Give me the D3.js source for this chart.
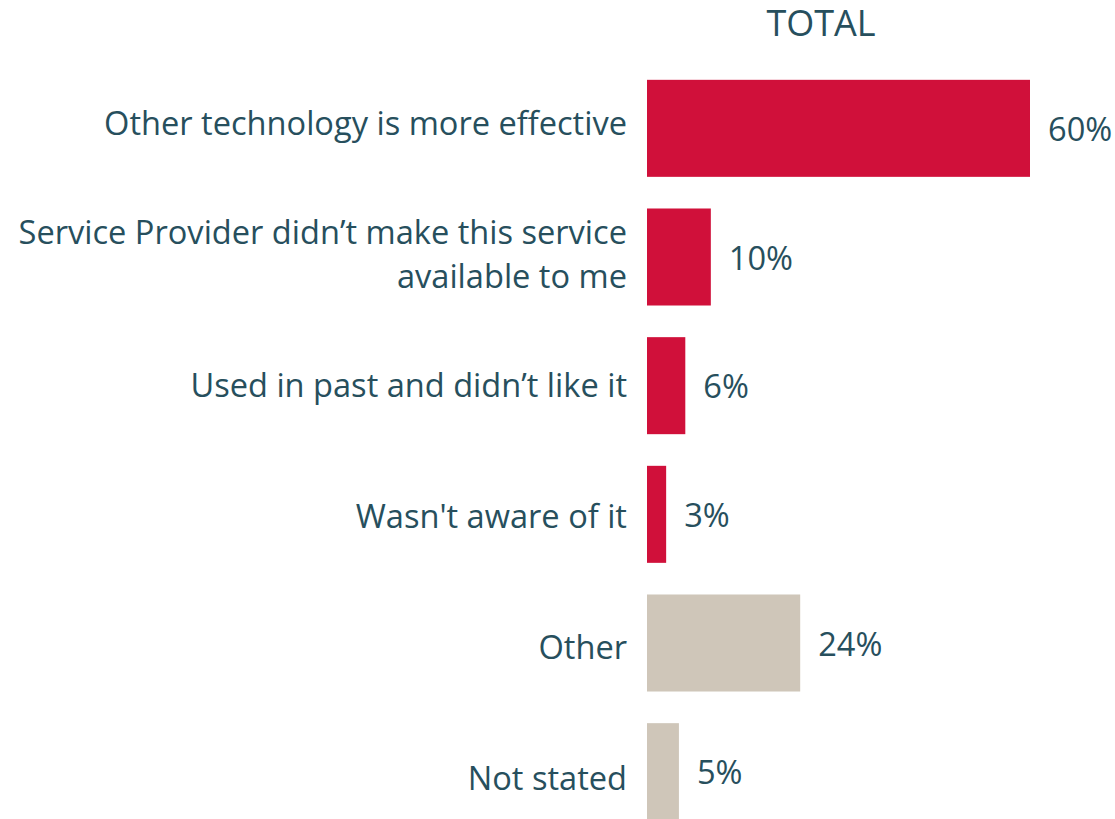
<!DOCTYPE html>
<html>
<head>
<meta charset="utf-8">
<script src="https://cdn.jsdelivr.net/npm/d3@7"></script>
<style>
  html, body { margin: 0; padding: 0; background: #ffffff; }
  svg { display: block; }
  text { font-family: "Open Sans", sans-serif; fill: #274f5d; }
</style>
</head>
<body>
<svg id="chart" width="1115" height="819"></svg>
<script>
// Reasons given (one line per array entry for wrapped labels)
const categories = [
  "Other technology is more effective",
  "Service Provider didn’t make this service available to me",
  "Used in past and didn’t like it",
  "Wasn't aware of it",
  "Other",
  "Not stated"
];
const labelLines = [
  ["Other technology is more effective"],
  ["Service Provider didn’t make this service", "available to me"],
  ["Used in past and didn’t like it"],
  ["Wasn't aware of it"],
  ["Other"],
  ["Not stated"]
];
const values = [60, 10, 6, 3, 24, 5];
const groups = ["main", "main", "main", "main", "rest", "rest"];
const seriesTitle = "TOTAL";

const colors = { main: "#d0103a", rest: "#cfc6b9" };

const svg = d3.select("#chart");

const x = d3.scaleLinear().domain([0, 60]).range([647, 1030]);
const y = d3.scaleBand()
  .domain(categories)
  .range([64, 836])
  .paddingInner(0.246)
  .paddingOuter(0.123);
// Category text sits on its own slightly wider rhythm (baselines)
const yLabel = d3.scalePoint().domain(categories).range([135, 790]);

const fontSize = 32.6;

// Column header
svg.append("text")
  .attr("x", 821)
  .attr("y", 36)
  .attr("text-anchor", "middle")
  .attr("font-size", 36)
  .text(seriesTitle);

// Bars
svg.selectAll("rect.bar")
  .data(categories)
  .join("rect")
  .attr("class", "bar")
  .attr("x", x(0))
  .attr("y", d => y(d))
  .attr("width", (d, i) => x(values[i]) - x(0))
  .attr("height", y.bandwidth())
  .attr("fill", (d, i) => colors[groups[i]]);

// Value labels
svg.selectAll("text.value")
  .data(categories)
  .join("text")
  .attr("class", "value")
  .attr("x", (d, i) => x(values[i]) + 18)
  .attr("y", d => y(d) + y.bandwidth() / 2 + 12.5)
  .attr("font-size", fontSize)
  .text((d, i) => values[i] + "%");

// Category labels, right-aligned against the bars
const lineH = 44;
svg.selectAll("text.cat")
  .data(categories)
  .join("text")
  .attr("class", "cat")
  .attr("text-anchor", "end")
  .attr("font-size", fontSize)
  .each(function (d, i) {
    const lines = labelLines[i];
    const base = yLabel(d);
    const t = d3.select(this);
    lines.forEach((ln, k) => {
      t.append("tspan")
        .attr("x", 627)
        .attr("y", base + (k - (lines.length - 1) / 2) * lineH)
        .text(ln);
    });
  });
</script>
</body>
</html>
